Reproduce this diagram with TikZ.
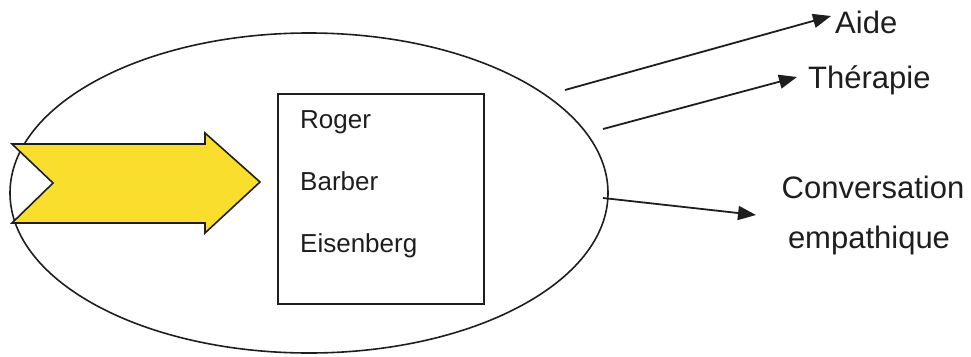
\documentclass[tikz,border=0pt]{standalone}
\usepackage{fontspec}
\setmainfont{Liberation Sans}
\usetikzlibrary{arrows.meta,shapes.geometric}

\definecolor{inkline}{RGB}{30,30,30}
\definecolor{chevronfill}{RGB}{250,222,45}

\tikzset{
  outline/.style={draw=inkline, line width=1.6pt},
  namelabel/.style={anchor=base west, inner sep=0pt, text=inkline,
    font=\fontsize{26}{30}\selectfont},
  outlabel/.style={inner sep=0pt, text=inkline,
    font=\fontsize{31}{35}\selectfont},
  outarrow/.style={draw=inkline, line width=1.8pt,
    -{Triangle[length=18pt,width=14pt]}},
}

\begin{document}
\begin{tikzpicture}[x=1pt,y=-1pt]
  \useasboundingbox (0,0) rectangle (971,356);

  % large ellipse
  \node[outline, ellipse, minimum width=598pt, minimum height=320pt,
        inner sep=0pt] (field) at (309,193) {};

  % yellow chevron arrow entering the ellipse
  \draw[outline, fill=chevronfill, line join=miter]
    (12,144) -- (205,144) -- (205,133) -- (260,182) -- (205,233)
    -- (205,223) -- (12,223) -- (53,183) -- cycle;

  % inner box with names
  \node[outline, minimum width=206pt, minimum height=210pt, inner sep=0pt]
    (box) at (381,199) {};
  \node[namelabel] (roger) at (300,128) {Roger};
  \node[namelabel] (barber) at (300,190) {Barber};
  \node[namelabel] (eisenberg) at (300,252) {Eisenberg};

  % outcome labels
  \node[outlabel, anchor=base west] (aide) at (835,33) {Aide};
  \node[outlabel, anchor=base west] (therapie) at (808,88) {Thérapie};
  \node[outlabel, anchor=base] (conv) at (873,198) {Conversation};
  \node[outlabel, anchor=base] (empath) at (869,248) {empathique};

  % arrow end points
  \coordinate (s1) at (565,90);
  \coordinate (t1) at (831,16);
  \coordinate (s2) at (603,129);
  \coordinate (t2) at (797,77);
  \coordinate (s3) at (603,198);
  \coordinate (t3) at (756,215);

  \draw[outarrow] (s1) -- (t1);
  \draw[outarrow] (s2) -- (t2);
  \draw[outarrow] (s3) -- (t3);
\end{tikzpicture}
\end{document}
